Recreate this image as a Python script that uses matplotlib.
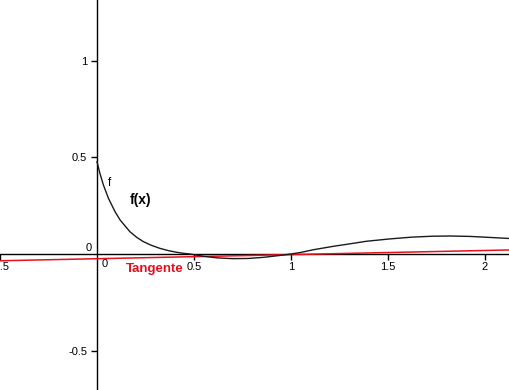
import matplotlib
matplotlib.use("Agg")
import matplotlib.pyplot as plt

# curve f(x)
fx = [0.0, 0.015, 0.033, 0.059, 0.093, 0.119, 0.144, 0.170, 0.205, 0.239, 0.28, 0.325, 0.37,
      0.41, 0.45, 0.48, 0.55, 0.62, 0.70, 0.78, 0.86, 0.93, 1.0, 1.05, 1.115, 1.22,
      1.30, 1.39, 1.51, 1.62, 1.73, 1.82, 1.92, 2.0, 2.13]
fy = [0.477, 0.417, 0.357, 0.288, 0.219, 0.176, 0.146, 0.115, 0.086, 0.064, 0.045, 0.029, 0.017,
      0.009, 0.003, 0.0, -0.012, -0.020, -0.024, -0.023, -0.017, -0.009, 0.0, 0.008, 0.022, 0.040,
      0.052, 0.066, 0.078, 0.087, 0.092, 0.093, 0.091, 0.087, 0.080]

# tangent line end points
tx = [-0.5, 2.13]
ty = [-0.035, 0.021]

xticks = [-0.5, 0.5, 1, 1.5, 2]
xticklabels = ["-0.5", "0.5", "1", "1.5", "2"]
yticks = [-0.5, 0.5, 1]
yticklabels = ["-0.5", "0.5", "1"]

plt.rcParams['font.family'] = ['Liberation Sans', 'DejaVu Sans']

fig = plt.figure(figsize=(5.09, 3.90), dpi=100)
ax = fig.add_axes([0, 0, 1, 1])
ax.set_xlim(-0.5, 2.124)
ax.set_ylim(-0.703, 1.313)

for s in ['top', 'right']:
    ax.spines[s].set_visible(False)
ax.spines['left'].set_position(('data', 0))
ax.spines['bottom'].set_position(('data', 0))
ax.spines['left'].set_linewidth(1.0)
ax.spines['bottom'].set_linewidth(1.0)

ax.set_xticks(xticks)
ax.set_xticklabels(xticklabels)
ax.set_yticks(yticks)
ax.set_yticklabels(yticklabels)
ax.tick_params(axis='x', direction='out', length=4, width=1, pad=2, labelsize=8)
ax.tick_params(axis='y', direction='out', length=4, width=1, pad=3, labelsize=8)

ax.plot(tx, ty, color='#e8101c', lw=1.1, zorder=3)
ax.plot(fx, fy, color='#1a1a1a', lw=1.0, zorder=4)

ax.text(0.067, 0.367, 'f', fontsize=8.5, ha='center', va='center')
ax.text(0.227, 0.279, 'f(x)', fontsize=10, fontweight='bold', ha='center', va='center')
ax.text(0.297, -0.079, 'Tangente', fontsize=9.5, fontweight='bold', color='#e0101e',
        ha='center', va='center')
ax.text(-0.045, 0.029, '0', fontsize=8, ha='center', va='center')
ax.text(0.041, -0.052, '0', fontsize=8, ha='center', va='center')

fig.savefig('out.png', dpi=100)
